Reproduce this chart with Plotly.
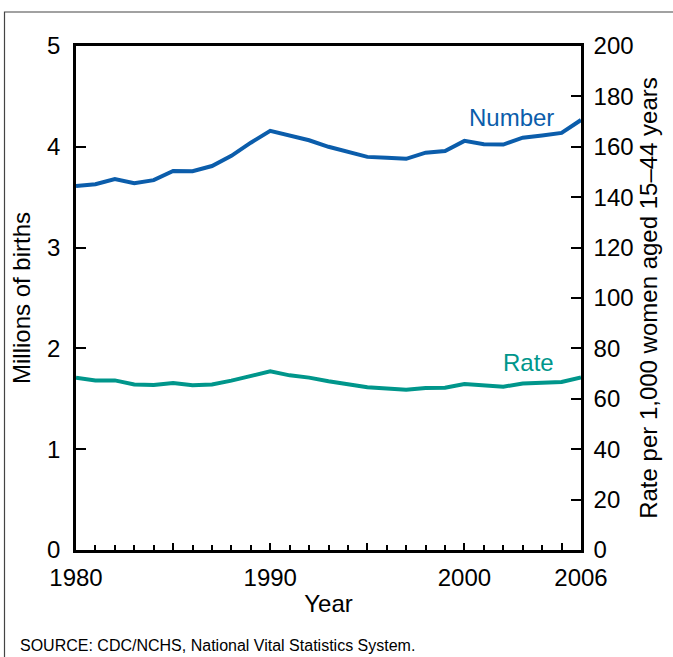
import plotly.graph_objects as go

years = list(range(1980, 2007))
births_millions = [3.612, 3.629, 3.681, 3.639, 3.669, 3.761, 3.757, 3.809, 3.910, 4.041,
                   4.158, 4.111, 4.065, 4.000, 3.953, 3.900, 3.891, 3.881, 3.942, 3.959,
                   4.059, 4.026, 4.022, 4.090, 4.112, 4.138, 4.266]
rate_per_1000 = [68.4, 67.3, 67.3, 65.7, 65.5, 66.3, 65.4, 65.7, 67.2, 69.2,
                 70.9, 69.3, 68.4, 67.0, 65.9, 64.6, 64.1, 63.6, 64.3, 64.4,
                 65.9, 65.3, 64.8, 66.1, 66.3, 66.7, 68.5]

x_tickvals = [1980, 1985, 1990, 1995, 2000, 2005, 2006]
x_ticktext = ["1980", "", "1990", "", "2000", "", "2006"]
left_ticks = [0, 1, 2, 3, 4, 5]
right_ticks = list(range(0, 201, 20))

BLUE = "#0b5dab"
TEAL = "#00968b"
FONT = "Liberation Sans, Arial, sans-serif"

fig = go.Figure()
fig.add_trace(go.Scatter(x=years, y=births_millions, mode="lines",
                         line=dict(color=BLUE, width=4), yaxis="y", showlegend=False,
                         hoverinfo="skip"))
fig.add_trace(go.Scatter(x=years, y=rate_per_1000, mode="lines",
                         line=dict(color=TEAL, width=4), yaxis="y2", showlegend=False,
                         hoverinfo="skip"))

W, H = 673, 657
L, R, T, B = 76, 92, 46, 107
pw, ph = W - L - R, H - T - B

def px_x(p):
    return (p - L) / pw

def px_y(p):
    return (H - B - p) / ph

fig.update_layout(
    width=W, height=H,
    margin=dict(l=L, r=R, t=T, b=B),
    paper_bgcolor="white", plot_bgcolor="white",
    font=dict(family=FONT, size=24, color="black"),
    xaxis=dict(range=[1980, 2006], tickvals=x_tickvals, ticktext=x_ticktext,
               ticks="inside", ticklen=7, tickwidth=1.5, tickcolor="black",
               minor=dict(dtick=1, tick0=1980, ticks="inside", ticklen=5, tickwidth=1.5, tickcolor="black"),
               showline=True, linecolor="black", linewidth=2.5, mirror=True,
               showgrid=False, zeroline=False, ticklabelstandoff=4,
               title=dict(text="Year", font=dict(size=24), standoff=6),
               tickfont=dict(size=24)),
    yaxis=dict(range=[0, 5], tickvals=left_ticks, ticks="inside", ticklen=10,
               tickwidth=2, tickcolor="black",
               showline=True, linecolor="black", linewidth=2.5,
               showgrid=False, zeroline=False, ticklabelstandoff=8,
               title=dict(text="Millions of births", font=dict(size=24), standoff=10),
               tickfont=dict(size=24)),
    yaxis2=dict(range=[0, 200], tickvals=right_ticks, overlaying="y", side="right",
                ticks="inside", ticklen=10, tickwidth=2, tickcolor="black",
                showline=True, linecolor="black", linewidth=2.5,
                showgrid=False, zeroline=False, ticklabelstandoff=5,
                title=dict(text="Rate per 1,000 women aged 15\u201344 years", font=dict(size=24), standoff=8),
                tickfont=dict(size=24)),
    annotations=[
        dict(x=2004.7, y=4.29, xref="x", yref="y", text="Number", showarrow=False,
             xanchor="right", yanchor="middle", font=dict(color=BLUE, size=24)),
        dict(x=2004.7, y=1.86, xref="x", yref="y", text="Rate", showarrow=False,
             xanchor="right", yanchor="middle", font=dict(color=TEAL, size=24)),
        dict(x=px_x(18), y=px_y(645), xref="paper", yref="paper",
             text="SOURCE: CDC/NCHS, National Vital Statistics System.", showarrow=False,
             xanchor="left", yanchor="middle", font=dict(size=16)),
    ],
    shapes=[
        dict(type="rect", xref="paper", yref="paper",
             x0=px_x(4.5), x1=px_x(690), y0=px_y(680), y1=px_y(12),
             line=dict(color="#444444", width=1.2), fillcolor="rgba(0,0,0,0)", layer="below"),
    ],
)

fig.write_html("out.html", config={"displayModeBar": False},
               post_script="document.body.style.margin='0px';document.body.style.overflow='hidden';")
